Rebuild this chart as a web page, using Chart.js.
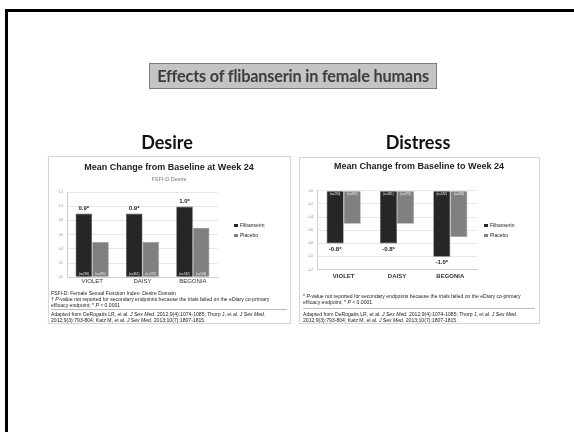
<!DOCTYPE html>
<html>
<head>
<meta charset="utf-8">
<script src="https://cdn.jsdelivr.net/npm/chart.js@4/dist/chart.umd.min.js"></script>
<style>
  html, body { margin: 0; padding: 0; background: #fff; }
  body { width: 574px; height: 432px; position: relative; overflow: hidden; font-family: "Liberation Sans", Arial, sans-serif; }
  .soft { position: absolute; left: 0; top: 0; width: 574px; height: 432px; filter: blur(0.3px); }
  .frame-top { position: absolute; left: 5px; top: 9px; width: 569px; height: 3px; background: #000; }
  .frame-left { position: absolute; left: 5px; top: 9px; width: 3px; height: 423px; background: #000; }
  .slide-title { position: absolute; left: 149px; top: 63px; width: 286px; height: 24px; background: #c4c4c4; border: 1px solid #7c7c7c;
    font-family: Lato, "Open Sans", sans-serif; font-weight: bold; font-size: 16.3px; color: #3c3c3c; line-height: 24px; text-align: center; letter-spacing: -0.2px; }
  .heading { position: absolute; top: 131px; font-family: Lato, "Open Sans", sans-serif; font-weight: bold; font-size: 18px; color: #111; text-align: center; line-height: 22px; }
  .panel { position: absolute; border: 1px solid #d6d6d6; background: #fff; box-shadow: 0 0 1px rgba(0,0,0,0.08); }
  canvas.chart { position: absolute; }
  .legend { position: absolute; font-size: 5px; color: #222; }
  .legend div { position: relative; height: 10px; line-height: 5px; white-space: nowrap; }
  .legend span.sw { display: inline-block; width: 3.5px; height: 3.5px; margin-right: 2.5px; vertical-align: 0px; }
  .note { position: absolute; font-size: 5.1px; line-height: 6px; color: #222; white-space: nowrap; }
  .rule { position: absolute; height: 1px; background: #bbb; }
</style>
</head>
<body>
<div class="soft">
<div class="frame-top"></div>
<div class="frame-left"></div>

<div class="slide-title">Effects of flibanserin in female humans</div>

<div class="heading" style="left:67px;width:200px;">Desire</div>
<div class="heading" style="left:318px;width:200px;">Distress</div>

<div class="panel" style="left:48px;top:156px;width:241px;height:166px;"></div>
<div class="panel" style="left:299px;top:157px;width:239px;height:165px;"></div>

<canvas id="desire" class="chart" width="238" height="126" style="left:50px;top:161px;"></canvas>
<canvas id="distress" class="chart" width="238" height="124" style="left:300px;top:160px;"></canvas>

<div id="desireLegend" class="legend" style="left:234px;top:223px;"></div>
<div id="distressLegend" class="legend" style="left:484px;top:223px;"></div>

<div class="note" style="left:51px;top:290px;">FSFI-D: Female Sexual Function Index- Desire Domain</div>
<div class="note" style="left:51px;top:296px;">† <i>P</i>-value not reported for secondary endpoints because the trials failed on the eDiary co-primary</div>
<div class="note" style="left:51px;top:302px;">efficacy endpoint; * <i>P</i> &lt; 0.0001</div>
<div class="rule" style="left:51px;top:309px;width:236px;"></div>
<div class="note" style="left:51px;top:311px;">Adapted from DeRogatis LR, et al. <i>J Sex Med.</i> 2012;9(4):1074-1085; Thorp J, et al. <i>J Sex Med.</i></div>
<div class="note" style="left:51px;top:317px;">2012;9(3):793-804; Katz M, et al. <i>J Sex Med.</i> 2013;10(7):1807-1815.</div>

<div class="note" style="left:303px;top:293px;">* <i>P</i>-value not reported for secondary endpoints because the trials failed on the eDiary co-primary</div>
<div class="note" style="left:303px;top:299px;">efficacy endpoint; * <i>P</i> &lt; 0.0001</div>
<div class="rule" style="left:303px;top:308px;width:232px;"></div>
<div class="note" style="left:303px;top:311px;">Adapted from DeRogatis LR, et al. <i>J Sex Med.</i> 2012;9(4):1074-1085; Thorp J, et al. <i>J Sex Med.</i></div>
<div class="note" style="left:303px;top:317px;">2012;9(3):793-804; Katz M, et al. <i>J Sex Med.</i> 2013;10(7):1807-1815.</div>
</div>

<script>
// Trials and results (mean change from baseline at week 24)
const trials = ['VIOLET', 'DAISY', 'BEGONIA'];
const seriesNames = ['Flibanserin', 'Placebo'];

const desireFlibanserin = [0.9, 0.9, 1.0];
const desirePlacebo = [0.5, 0.5, 0.7];

const distressFlibanserin = [-0.8, -0.8, -1.0];
const distressPlacebo = [-0.5, -0.5, -0.7];

// Patients per arm
const nFlibanserin = [290, 361, 532];
const nPlacebo = [295, 373, 536];

const desireTicks = ['0.0', '0.2', '0.4', '0.6', '0.8', '1.0', '1.2'];
const distressTicks = ['0.0', '-0.2', '-0.4', '-0.6', '-0.8', '-1.0', '-1.2'];

const colFlib = '#262626';
const colPlacebo = '#808080';

Chart.defaults.font.family = '"Liberation Sans", Arial, sans-serif';

// Value labels on the flibanserin bars and n= labels inside every bar
const barText = {
  id: 'barText',
  afterDatasetsDraw(chart) {
    const ctx = chart.ctx;
    ctx.save();
    ctx.textAlign = 'center';
    ctx.textBaseline = 'middle';
    chart.data.datasets.forEach((ds, di) => {
      const meta = chart.getDatasetMeta(di);
      meta.data.forEach((bar, i) => {
        const v = ds.data[i];
        ctx.fillStyle = '#f0f0f0';
        ctx.font = '3px "Liberation Sans", Arial, sans-serif';
        const ny = v >= 0 ? bar.base - 3 : bar.base + 3;
        ctx.fillText('(n=' + ds.nCounts[i] + ')', bar.x, ny);
        if (di === 0) {
          ctx.fillStyle = '#222';
          ctx.font = 'bold 6px "Liberation Sans", Arial, sans-serif';
          const ty = v >= 0 ? bar.y - 5 : bar.y + 6;
          ctx.fillText(v.toFixed(1) + '*', bar.x, ty);
        }
      });
    });
    ctx.restore();
  }
};

function makeChart(id, legendId, flib, plac, tickLabels, min, max, titleText, subtitleText, opts) {
  const chart = new Chart(document.getElementById(id), {
    type: 'bar',
    data: {
      labels: trials,
      datasets: [
        { label: seriesNames[0], data: flib, nCounts: nFlibanserin, backgroundColor: colFlib, borderColor: '#555', borderWidth: 0.6 },
        { label: seriesNames[1], data: plac, nCounts: nPlacebo, backgroundColor: colPlacebo, borderColor: '#999', borderWidth: 0.6 }
      ]
    },
    options: {
      responsive: false,
      devicePixelRatio: 1,
      animation: false,
      categoryPercentage: opts.catPct,
      barPercentage: 1.0,
      layout: { padding: { left: 0, right: 0, top: 0, bottom: opts.padBottom } },
      plugins: {
        legend: { display: false },
        tooltip: { enabled: false },
        title: {
          display: true, text: titleText, color: '#222',
          font: { size: 9, weight: 'bold' }, padding: { top: 1, bottom: subtitleText ? 0 : opts.titleBottom }
        },
        subtitle: {
          display: !!subtitleText, text: subtitleText || '', color: '#777',
          font: { size: 5.5 }, padding: { top: 3, bottom: opts.titleBottom }
        }
      },
      scales: {
        x: {
          grid: { display: false, drawTicks: false },
          border: { display: true, color: '#d0d0d0' },
          position: 'bottom',
          ticks: { color: '#333', font: { size: 6, weight: opts.xWeight }, padding: opts.xPad, maxRotation: 0 }
        },
        y: {
          min: min, max: max,
          afterFit(scale) { scale.width = 17; },
          grid: { color: '#e2e2e2', lineWidth: 0.8, drawTicks: false },
          border: { display: true, color: '#d0d0d0' },
          ticks: {
            stepSize: 0.2, color: '#888', font: { size: 3 }, padding: 4,
            callback(value) {
              const idx = Math.round(Math.abs(value) / 0.2);
              return tickLabels[idx];
            }
          }
        },
        // empty right-hand band that leaves room for the legend
        legendSpace: {
          type: 'linear', position: 'right', display: true,
          afterFit(scale) { scale.width = opts.padRight; },
          grid: { display: false, drawTicks: false },
          border: { display: false },
          ticks: { display: false }
        }
      }
    },
    plugins: [barText]
  });
  // legend drawn from the chart's own datasets
  const box = document.getElementById(legendId);
  chart.data.datasets.forEach(ds => {
    const row = document.createElement('div');
    const sw = document.createElement('span');
    sw.className = 'sw';
    sw.style.background = ds.backgroundColor;
    row.appendChild(sw);
    row.appendChild(document.createTextNode(ds.label));
    box.appendChild(row);
  });
  return chart;
}

makeChart('desire', 'desireLegend', desireFlibanserin, desirePlacebo, desireTicks, 0, 1.2,
  'Mean Change from Baseline at Week 24', 'FSFI-D Desire',
  { catPct: 0.66, padRight: 70, padBottom: 0.6, titleBottom: 10, xPad: 1, xWeight: 'normal' });

makeChart('distress', 'distressLegend', distressFlibanserin, distressPlacebo, distressTicks, -1.2, 0,
  'Mean Change from Baseline to Week 24', null,
  { catPct: 0.64, padRight: 61, padBottom: 2, titleBottom: 19, xPad: 2.5, xWeight: 'bold' });
</script>
</body>
</html>
